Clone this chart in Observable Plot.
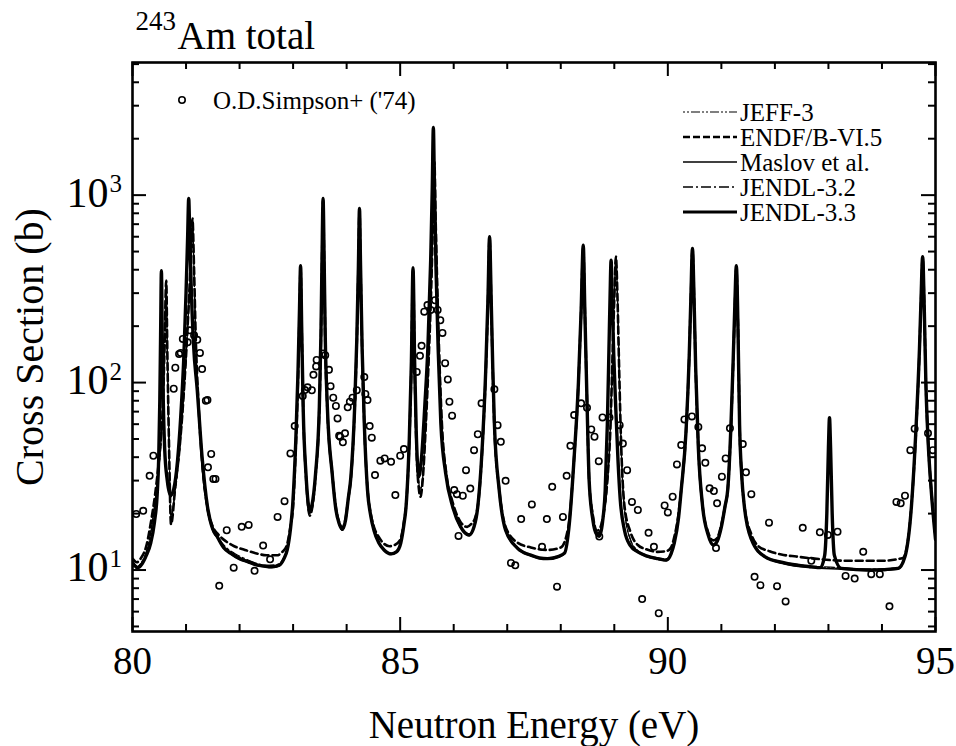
<!DOCTYPE html>
<html>
<head>
<meta charset="utf-8">
<script src="https://cdn.jsdelivr.net/npm/d3@7"></script>
<script src="https://cdn.jsdelivr.net/npm/@observablehq/plot@0.6"></script>
<style>
  html, body { margin: 0; padding: 0; background: white; }
  #chart { position: relative; width: 956px; height: 746px; }
</style>
</head>
<body>
<div id="chart"></div>
<script>
// ---------- tick values & labels ----------
const xTickValues = [80, 85, 90, 95];
const xTickLabels = ["80", "85", "90", "95"];
const xMinorTicks = [81, 82, 83, 84, 86, 87, 88, 89, 91, 92, 93, 94];
const yTickValues = [10, 100, 1000];
const yTickBases = ["10", "10", "10"];
const yTickExponents = ["1", "2", "3"];
const yMinorTicks = [5, 6, 7, 8, 9, 20, 30, 40, 50, 60, 70, 80, 90, 200, 300, 400, 500, 600, 700, 800, 900, 2000, 3000, 4000, 5000];

// ---------- legend ----------
const dataLegendLabel = "O.D.Simpson+ ('74)";
const seriesNames = ["JEFF-3", "ENDF/B-VI.5", "Maslov et al.", "JENDL-3.2", "JENDL-3.3"];

// ---------- experimental points: O.D. Simpson+ ('74) ----------
const simpsonE = [80.07,80.20,80.32,80.39,80.77,80.80,80.87,80.90,80.94,81.03,81.07,81.15,81.21,81.26,81.30,81.37,81.40,81.41,81.47,81.51,81.55,81.62,81.76,81.89,82.04,82.17,82.28,82.44,82.57,82.71,82.84,82.95,83.03,83.18,83.22,83.27,83.35,83.38,83.43,83.44,83.56,83.60,83.67,83.70,83.75,83.80,83.83,83.86,83.88,83.93,83.97,84.02,84.06,84.11,84.19,84.33,84.35,84.39,84.43,84.47,84.53,84.63,84.71,84.83,84.91,85.00,85.07,85.31,85.37,85.40,85.45,85.51,85.57,85.65,85.70,85.75,85.79,85.84,85.89,85.92,85.97,86.01,86.06,86.09,86.17,86.23,86.31,86.38,86.45,86.52,86.76,86.82,86.88,86.97,87.07,87.15,87.26,87.46,87.65,87.74,87.84,87.93,88.04,88.11,88.18,88.25,88.38,88.49,88.57,88.63,88.71,88.72,88.78,88.91,89.10,89.16,89.24,89.33,89.44,89.52,89.64,89.74,89.83,89.94,90.00,90.09,90.17,90.25,90.31,90.45,90.57,90.64,90.70,90.78,90.86,90.90,90.92,91.01,91.08,91.16,91.40,91.46,91.56,91.62,91.73,91.89,92.04,92.20,92.52,92.68,92.84,92.99,93.17,93.32,93.49,93.65,93.80,93.96,94.14,94.27,94.35,94.43,94.53,94.61,94.86,94.95];
const simpsonXS = [19.9,20.7,31.8,40.7,92.7,120,142,144,171,164,190,179,169,144,118,80,80.7,35.3,41.6,30.6,30.6,8.24,16.3,10.3,17.0,17.4,9.9,13.5,11.4,19.2,23.3,41.9,58.6,84.7,91.2,94.3,91,110,122,132,143,140,117,95.7,83,75,64.4,52,51.4,48,53.6,73.8,79,83,91,107,86.9,80.7,58.6,50.8,32.1,38.3,39.4,37.8,25.1,40.7,44.2,114,139,157,239,259,244,275,244,215,184,127,104,79,66.6,26.7,25.4,15.2,24.9,34.1,27.2,43.6,53,77.5,92,59.3,48.3,29.9,10.9,10.6,18.7,22.4,13.3,18.7,27.8,8.15,19.2,31.8,46,67.1,77.5,73.4,56.2,51.4,38.1,15.1,65.2,65.2,59.3,47.3,34.1,23.1,20.9,7.0,15.8,13.3,5.88,22.1,20.3,24.6,36.6,46.4,63.6,66,58,44.6,37.3,27.3,26.4,13.1,22.7,31.5,39.4,57,47,33.2,25.4,9.2,8.3,17.9,8.2,6.8,16.8,11.2,15.9,15.4,16.0,9.3,9.0,12.5,9.5,9.5,6.4,23.1,22.7,24.9,43.6,56.8,53.6,43.6];

// ---------- evaluated curves [energy (eV), cross section (b)] ----------
const jendl33 = [[80.00,11.0],[80.05,10.5],[80.10,10.3],[80.18,10.8],[80.26,12.0],[80.34,13.9],[80.41,18],[80.46,25],[80.49,40],[80.51,80],[80.525,180],[80.54,395],[80.555,180],[80.575,80],[80.60,45],[80.65,30],[80.71,25],[80.77,27],[80.84,38],[80.90,65],[80.96,140],[81.00,300],[81.03,600],[81.05,960],[81.07,600],[81.10,300],[81.14,160],[81.21,91],[81.30,40],[81.40,21.8],[81.50,16.5],[81.58,15.1],[81.70,13.2],[81.83,12.3],[82.00,11.5],[82.15,11.1],[82.30,10.7],[82.46,10.5],[82.60,10.4],[82.74,10.6],[82.83,11.5],[82.89,12.8],[82.95,16.5],[82.99,21.8],[83.05,49],[83.09,110],[83.12,250],[83.14,420],[83.16,200],[83.19,70],[83.24,32.8],[83.28,23],[83.31,20.5],[83.35,22],[83.42,32.8],[83.49,74],[83.52,180],[83.54,450],[83.56,960],[83.58,450],[83.60,180],[83.64,74],[83.73,32.8],[83.80,21],[83.86,17.7],[83.92,16.5],[83.98,18.5],[84.03,24],[84.08,31.5],[84.15,74],[84.19,170],[84.22,420],[84.24,850],[84.26,420],[84.29,150],[84.33,60.5],[84.39,26.7],[84.45,19.5],[84.51,16.3],[84.60,14.0],[84.70,12.8],[84.83,12.2],[84.93,12.5],[85.01,13.9],[85.07,17.5],[85.11,21.8],[85.17,49.4],[85.21,130],[85.24,410],[85.27,130],[85.30,55],[85.35,31.5],[85.40,40],[85.46,75],[85.52,160],[85.57,450],[85.60,1100],[85.62,2300],[85.64,1100],[85.67,400],[85.71,150],[85.76,60.5],[85.85,32.8],[85.98,21.8],[86.13,17.0],[86.29,15.4],[86.38,17],[86.45,21.8],[86.54,49.4],[86.60,120],[86.64,280],[86.67,600],[86.70,280],[86.73,120],[86.76,60.5],[86.85,26.7],[86.97,16.3],[87.19,13.1],[87.44,12.0],[87.60,11.6],[87.75,11.5],[87.95,11.8],[88.07,12.3],[88.16,17.7],[88.25,40],[88.33,100],[88.38,240],[88.42,540],[88.45,240],[88.49,80],[88.53,30],[88.60,18.5],[88.67,15.5],[88.72,15.2],[88.78,18],[88.83,26.7],[88.87,60],[88.90,150],[88.92,280],[88.94,450],[88.96,280],[88.99,140],[89.03,70],[89.07,38],[89.11,24],[89.19,16.3],[89.30,13.5],[89.44,12.5],[89.60,11.9],[89.81,11.5],[89.97,11.3],[90.06,12.2],[90.12,13.9],[90.20,19],[90.25,26.7],[90.34,55],[90.40,140],[90.43,280],[90.46,520],[90.49,280],[90.52,120],[90.57,45],[90.65,21.8],[90.75,15.5],[90.85,13.6],[90.92,14.2],[91.00,17],[91.07,22],[91.12,27],[91.18,60],[91.22,130],[91.25,250],[91.28,420],[91.31,200],[91.34,60],[91.38,32],[91.43,21.8],[91.56,14.6],[91.81,11.8],[92.18,10.9],[92.68,10.4],[92.85,10.3],[92.93,12],[92.97,20],[93.00,45],[93.02,65],[93.04,45],[93.07,20],[93.11,12],[93.24,10.2],[93.80,10.0],[94.30,10.2],[94.43,11.8],[94.55,21.8],[94.64,60.5],[94.70,150],[94.73,280],[94.76,470],[94.79,250],[94.82,100],[94.86,50],[94.92,26.7],[95.00,14.6]];

const maslov = [[80.00,11.1],[80.05,10.6],[80.10,10.3],[80.18,10.8],[80.26,12.0],[80.34,13.8],[80.41,18],[80.46,25],[80.49,40],[80.51,80],[80.525,180],[80.54,390],[80.555,180],[80.575,80],[80.60,45],[80.65,30],[80.71,24.5],[80.77,27],[80.84,38],[80.90,65],[80.96,140],[81.00,300],[81.03,600],[81.05,940],[81.07,600],[81.10,300],[81.14,160],[81.21,90],[81.30,40],[81.40,21.6],[81.50,16.4],[81.58,15.0],[81.70,13.1],[81.83,12.2],[82.00,11.4],[82.15,11.0],[82.30,10.6],[82.46,10.4],[82.60,10.3],[82.74,10.5],[82.83,11.4],[82.89,12.7],[82.95,16.4],[82.99,21.6],[83.05,48],[83.09,108],[83.12,245],[83.14,415],[83.16,200],[83.19,70],[83.24,32.5],[83.28,22.8],[83.31,20.3],[83.35,21.8],[83.42,32.5],[83.49,73],[83.52,178],[83.54,445],[83.56,950],[83.58,445],[83.60,178],[83.64,73],[83.73,32.5],[83.80,20.8],[83.86,17.5],[83.92,16.3],[83.98,18.3],[84.03,23.8],[84.08,31.2],[84.15,73],[84.19,168],[84.22,415],[84.24,840],[84.26,415],[84.29,148],[84.33,60],[84.39,26.5],[84.45,19.3],[84.51,16.1],[84.60,13.9],[84.70,12.7],[84.83,12.1],[84.93,12.4],[85.01,13.8],[85.07,17.4],[85.11,21.6],[85.17,49],[85.21,128],[85.24,405],[85.27,128],[85.30,54],[85.35,31],[85.40,39],[85.46,74],[85.52,158],[85.57,440],[85.60,1080],[85.62,2250],[85.64,1080],[85.67,395],[85.71,148],[85.76,60],[85.85,32.5],[85.98,21.6],[86.13,16.8],[86.29,15.2],[86.38,16.8],[86.45,21.6],[86.54,49],[86.60,118],[86.64,275],[86.67,590],[86.70,275],[86.73,118],[86.76,60],[86.85,26.5],[86.97,16.1],[87.19,13.0],[87.44,11.9],[87.60,11.5],[87.75,11.4],[87.95,11.7],[88.07,12.2],[88.16,17.5],[88.25,39.5],[88.33,99],[88.38,238],[88.42,535],[88.45,238],[88.49,79],[88.53,29.5],[88.60,18.3],[88.67,15.3],[88.72,15.0],[88.78,17.8],[88.83,26.5],[88.87,59],[88.90,148],[88.92,276],[88.94,445],[88.96,276],[88.99,138],[89.03,69],[89.07,37.5],[89.11,23.8],[89.19,16.1],[89.30,13.4],[89.44,12.4],[89.60,11.8],[89.81,11.4],[89.97,11.2],[90.06,12.1],[90.12,13.8],[90.20,18.8],[90.25,26.5],[90.34,54],[90.40,138],[90.43,276],[90.46,515],[90.49,276],[90.52,118],[90.57,44.5],[90.65,21.6],[90.75,15.3],[90.85,13.5],[90.92,14.0],[91.00,16.8],[91.07,21.8],[91.12,26.8],[91.18,59],[91.22,128],[91.25,246],[91.28,415],[91.31,198],[91.34,59],[91.38,31.6],[91.43,21.6],[91.56,14.4],[91.81,11.7],[92.18,10.8],[92.68,10.3],[93.24,10.1],[93.80,9.9],[94.30,10.1],[94.43,11.7],[94.55,21.6],[94.64,60],[94.70,148],[94.73,276],[94.76,465],[94.79,248],[94.82,99],[94.86,49.5],[94.92,26.5],[95.00,14.5]];

const endf = [[80.00,11.5],[80.08,11.0],[80.16,11.6],[80.26,13.5],[80.34,17.7],[80.42,25],[80.48,35],[80.53,50],[80.57,80],[80.60,160],[80.63,350],[80.65,150],[80.68,50],[80.72,17.5],[80.80,28],[80.88,45],[80.96,90],[81.03,200],[81.08,400],[81.12,750],[81.15,400],[81.18,180],[81.23,80],[81.30,38],[81.40,21.5],[81.50,17],[81.60,15.5],[81.75,14.2],[81.90,13.4],[82.10,12.8],[82.30,12.3],[82.50,12.0],[82.70,12.0],[82.80,12.5],[82.88,13.5],[82.95,17],[83.00,22],[83.05,45],[83.09,100],[83.12,230],[83.14,410],[83.16,200],[83.19,70],[83.24,32],[83.28,22],[83.31,19.5],[83.35,21],[83.42,32],[83.49,72],[83.52,170],[83.54,430],[83.56,940],[83.58,430],[83.60,170],[83.64,72],[83.73,33],[83.80,21.5],[83.86,18],[83.92,16.8],[83.98,18.8],[84.03,24],[84.08,31],[84.15,72],[84.19,165],[84.22,410],[84.24,830],[84.26,410],[84.29,150],[84.33,60],[84.39,27],[84.45,20],[84.51,17],[84.60,15],[84.70,13.8],[84.80,13.4],[84.90,13.6],[85.00,14.5],[85.07,18],[85.11,22],[85.17,48],[85.21,125],[85.24,400],[85.27,125],[85.30,50],[85.35,27],[85.38,24.6],[85.42,30],[85.48,60],[85.54,150],[85.59,400],[85.62,900],[85.64,1500],[85.66,800],[85.69,350],[85.73,140],[85.78,60],[85.86,33],[85.98,23],[86.13,18],[86.25,17],[86.32,17.5],[86.40,19],[86.46,23],[86.54,48],[86.60,115],[86.64,270],[86.67,590],[86.70,270],[86.73,115],[86.76,58],[86.85,27],[86.97,17],[87.19,14],[87.44,13.2],[87.75,12.8],[88.00,13.2],[88.10,15],[88.16,18.5],[88.25,40],[88.33,100],[88.38,240],[88.42,530],[88.45,240],[88.49,80],[88.53,30],[88.60,19.5],[88.67,16.2],[88.72,16.5],[88.80,20],[88.87,30],[88.93,60],[88.97,150],[89.00,280],[89.03,470],[89.06,280],[89.09,120],[89.13,45],[89.19,22],[89.30,16],[89.44,13.6],[89.60,12.9],[89.81,12.5],[89.97,12.6],[90.06,13.2],[90.12,15],[90.20,20],[90.25,27],[90.34,55],[90.40,140],[90.43,280],[90.46,510],[90.49,280],[90.52,120],[90.57,45],[90.65,22],[90.75,16],[90.85,14.4],[90.92,14.8],[91.00,17.5],[91.07,22],[91.12,27],[91.18,58],[91.22,125],[91.25,240],[91.28,410],[91.31,200],[91.34,60],[91.38,32],[91.43,22],[91.56,15.5],[91.68,13.5],[91.90,12.6],[92.12,12.1],[92.40,11.8],[92.74,11.5],[93.37,11.2],[93.99,11.2],[94.39,11.6],[94.46,13],[94.55,22],[94.64,58],[94.70,145],[94.73,270],[94.76,460],[94.79,250],[94.82,100],[94.86,50],[94.92,27],[95.00,15]];

const jendl32 = [[80.00,10.8],[80.08,10.4],[80.16,10.9],[80.26,12.6],[80.34,16],[80.42,23],[80.48,33],[80.53,48],[80.57,78],[80.60,155],[80.63,345],[80.65,150],[80.68,50],[80.72,19],[80.80,27],[80.88,44],[80.96,88],[81.03,195],[81.08,390],[81.12,740],[81.15,390],[81.18,175],[81.23,78],[81.30,37],[81.40,21],[81.50,16.4],[81.60,14.8],[81.75,13.2],[81.90,12.3],[82.10,11.5],[82.30,10.9],[82.50,10.6],[82.70,10.7],[82.80,11.3],[82.88,12.8],[82.95,16.5],[83.00,22],[83.05,47],[83.09,105],[83.12,240],[83.14,415],[83.16,200],[83.19,70],[83.24,32.5],[83.28,22.5],[83.31,20.2],[83.35,21.6],[83.42,32.4],[83.49,73],[83.52,176],[83.54,440],[83.56,950],[83.58,440],[83.60,176],[83.64,73],[83.73,32.6],[83.80,20.9],[83.86,17.6],[83.92,16.4],[83.98,18.4],[84.03,24],[84.08,31.3],[84.15,73],[84.19,168],[84.22,415],[84.24,840],[84.26,415],[84.29,150],[84.33,60],[84.39,26.6],[84.45,19.4],[84.51,16.2],[84.60,14.0],[84.70,12.8],[84.83,12.3],[84.93,12.6],[85.01,14],[85.07,17.6],[85.11,21.8],[85.17,48.5],[85.21,127],[85.24,405],[85.27,127],[85.30,52],[85.35,29],[85.38,27],[85.42,31],[85.48,60],[85.54,150],[85.59,400],[85.62,900],[85.64,1500],[85.66,800],[85.69,350],[85.73,140],[85.78,58],[85.86,32],[85.98,22],[86.13,17.2],[86.29,15.6],[86.38,17.2],[86.45,21.8],[86.54,49],[86.60,118],[86.64,275],[86.67,595],[86.70,275],[86.73,118],[86.76,60],[86.85,26.6],[86.97,16.4],[87.19,13.2],[87.44,12.1],[87.60,11.7],[87.75,11.6],[87.95,11.9],[88.07,12.4],[88.16,17.8],[88.25,40],[88.33,100],[88.38,240],[88.42,535],[88.45,240],[88.49,80],[88.53,30],[88.60,18.8],[88.67,15.8],[88.72,16],[88.80,19.5],[88.87,29],[88.93,60],[88.97,150],[89.00,280],[89.03,465],[89.06,280],[89.09,120],[89.13,44],[89.19,21],[89.30,14.6],[89.44,12.7],[89.60,12.0],[89.81,11.6],[89.97,11.5],[90.06,12.3],[90.12,14],[90.20,19.2],[90.25,26.8],[90.34,55],[90.40,140],[90.43,280],[90.46,515],[90.49,280],[90.52,120],[90.57,45],[90.65,21.8],[90.75,15.6],[90.85,13.8],[90.92,14.3],[91.00,17.1],[91.07,22],[91.12,27],[91.18,59],[91.22,128],[91.25,245],[91.28,415],[91.31,200],[91.34,60],[91.38,32],[91.43,21.8],[91.56,14.7],[91.81,11.9],[92.18,11.0],[92.68,10.5],[93.24,10.3],[93.80,10.1],[94.30,10.3],[94.43,11.9],[94.55,21.8],[94.64,60],[94.70,148],[94.73,276],[94.76,465],[94.79,250],[94.82,100],[94.86,50],[94.92,26.8],[95.00,14.7]];

const jeff3 = [[80.00,10.6],[80.08,10.2],[80.16,10.8],[80.26,12.4],[80.34,15.6],[80.42,22.5],[80.48,32],[80.53,47],[80.57,77],[80.60,152],[80.63,340],[80.65,148],[80.68,50],[80.72,19.5],[80.80,27],[80.88,44],[80.96,87],[81.03,193],[81.08,385],[81.12,735],[81.15,385],[81.18,172],[81.23,77],[81.30,36.5],[81.40,20.8],[81.50,16.2],[81.60,14.6],[81.75,13.0],[81.90,12.1],[82.10,11.3],[82.30,10.8],[82.50,10.5],[82.70,10.6],[82.80,11.2],[82.88,12.7],[82.95,16.4],[83.00,22],[83.05,47],[83.09,105],[83.12,240],[83.14,415],[83.16,200],[83.19,70],[83.24,32.4],[83.28,22.4],[83.31,20.1],[83.35,21.5],[83.42,32.3],[83.49,73],[83.52,176],[83.54,440],[83.56,945],[83.58,440],[83.60,176],[83.64,73],[83.73,32.5],[83.80,20.8],[83.86,17.5],[83.92,16.3],[83.98,18.3],[84.03,23.9],[84.08,31.2],[84.15,73],[84.19,168],[84.22,415],[84.24,835],[84.26,415],[84.29,150],[84.33,60],[84.39,26.5],[84.45,19.3],[84.51,16.1],[84.60,13.9],[84.70,12.7],[84.83,12.2],[84.93,12.5],[85.01,13.9],[85.07,17.5],[85.11,21.7],[85.17,48.5],[85.21,127],[85.24,400],[85.27,127],[85.30,52],[85.35,29],[85.38,27],[85.42,31],[85.48,60],[85.54,150],[85.59,400],[85.62,900],[85.64,1480],[85.66,800],[85.69,350],[85.73,140],[85.78,58],[85.86,32],[85.98,22],[86.13,17.1],[86.29,15.5],[86.38,17.1],[86.45,21.7],[86.54,49],[86.60,118],[86.64,275],[86.67,590],[86.70,275],[86.73,118],[86.76,60],[86.85,26.5],[86.97,16.3],[87.19,13.1],[87.44,12.0],[87.60,11.6],[87.75,11.5],[87.95,11.8],[88.07,12.3],[88.16,17.7],[88.25,40],[88.33,100],[88.38,240],[88.42,530],[88.45,240],[88.49,80],[88.53,30],[88.60,18.7],[88.67,15.7],[88.72,15.9],[88.80,19.4],[88.87,29],[88.93,60],[88.97,150],[89.00,280],[89.03,460],[89.06,280],[89.09,120],[89.13,44],[89.19,21],[89.30,14.5],[89.44,12.6],[89.60,11.9],[89.81,11.5],[89.97,11.4],[90.06,12.2],[90.12,13.9],[90.20,19.1],[90.25,26.7],[90.34,55],[90.40,140],[90.43,280],[90.46,510],[90.49,280],[90.52,120],[90.57,45],[90.65,21.7],[90.75,15.5],[90.85,13.7],[90.92,14.2],[91.00,17],[91.07,22],[91.12,27],[91.18,59],[91.22,128],[91.25,245],[91.28,410],[91.31,200],[91.34,60],[91.38,32],[91.43,21.7],[91.56,14.6],[91.81,11.8],[92.18,10.9],[92.68,10.4],[93.24,10.2],[93.80,10.0],[94.30,10.2],[94.43,11.8],[94.55,21.7],[94.64,60],[94.70,148],[94.73,276],[94.76,462],[94.79,250],[94.82,100],[94.86,50],[94.92,26.7],[95.00,14.6]];

// ---------- layout ----------
const W = 956, H = 746;
const mL = 132, mR = 21, mT = 62, mB = 115;
const frameW = W - mL - mR, frameH = H - mT - mB;
const FONT = "'Liberation Serif', 'Times New Roman', serif";
const majorLen = 14, minorLen = 7;

const simpson = simpsonE.map((e, i) => ({e, xs: simpsonXS[i]}));
const X = d => d[0], Y = d => d[1];
const idx = (arr) => arr.map((_, i) => i);

const plot = Plot.plot({
  width: W, height: H,
  marginLeft: mL, marginRight: mR, marginTop: mT, marginBottom: mB,
  style: {fontFamily: FONT, background: "white", color: "black", overflow: "visible"},
  x: {domain: [80, 95], axis: null},
  y: {type: "log", domain: [4.7, 5100], axis: null},
  marks: [
    // curves
    Plot.line(jeff3, {x: X, y: Y, curve: "monotone-x", stroke: "black", strokeWidth: 1.2, strokeDasharray: "2,2,2,2,9,2", clip: true}),
    Plot.line(jendl32, {x: X, y: Y, curve: "monotone-x", stroke: "black", strokeWidth: 1.3, strokeDasharray: "10,3,2,3", clip: true}),
    Plot.line(endf, {x: X, y: Y, curve: "monotone-x", stroke: "black", strokeWidth: 2.6, strokeDasharray: "7,4", clip: true}),
    Plot.line(maslov, {x: X, y: Y, curve: "monotone-x", stroke: "black", strokeWidth: 1.4, clip: true}),
    Plot.line(jendl33, {x: X, y: Y, curve: "monotone-x", stroke: "black", strokeWidth: 3.4, clip: true}),
    // experimental points
    Plot.dot(simpson, {x: "e", y: "xs", r: 3.2, stroke: "black", strokeWidth: 1.6, fill: "none", clip: true}),
    // frame
    Plot.frame({stroke: "black", strokeWidth: 2.6}),
    // inward ticks, bottom & top
    Plot.tickX(xTickValues, {x: d => d, insetTop: frameH - majorLen, strokeWidth: 2}),
    Plot.tickX(xMinorTicks, {x: d => d, insetTop: frameH - minorLen, strokeWidth: 2}),
    Plot.tickX(xTickValues, {x: d => d, insetBottom: frameH - majorLen, strokeWidth: 2}),
    Plot.tickX(xMinorTicks, {x: d => d, insetBottom: frameH - minorLen, strokeWidth: 2}),
    // inward ticks, left & right
    Plot.tickY(yTickValues, {y: d => d, insetRight: frameW - majorLen, strokeWidth: 2}),
    Plot.tickY(yMinorTicks, {y: d => d, insetRight: frameW - minorLen, strokeWidth: 2}),
    Plot.tickY(yTickValues, {y: d => d, insetLeft: frameW - majorLen, strokeWidth: 2}),
    Plot.tickY(yMinorTicks, {y: d => d, insetLeft: frameW - minorLen, strokeWidth: 2}),
    // x tick labels
    Plot.text(idx(xTickValues), {x: i => xTickValues[i], text: i => xTickLabels[i], frameAnchor: "bottom", textAnchor: "middle", lineAnchor: "top", dy: 15, fontSize: 39, fill: "black"}),
    // y tick labels 10^n
    Plot.text(idx(yTickValues), {y: i => yTickValues[i], text: i => yTickBases[i], frameAnchor: "left", textAnchor: "end", lineAnchor: "middle", dx: -24, dy: -2, fontSize: 42, fill: "black"}),
    Plot.text(idx(yTickValues), {y: i => yTickValues[i], text: i => yTickExponents[i], frameAnchor: "left", textAnchor: "start", lineAnchor: "middle", dx: -23, dy: -11, fontSize: 25, fill: "black"}),
    // axis titles
    Plot.text(["Neutron Energy (eV)"], {text: d => d, frameAnchor: "bottom", textAnchor: "middle", lineAnchor: "bottom", dy: 106, fontSize: 39, fill: "black"}),
    Plot.text(["Cross Section (b)"], {text: d => d, frameAnchor: "left", textAnchor: "middle", lineAnchor: "bottom", rotate: -90, dx: -90, fontSize: 40, fill: "black"}),
    // title
    Plot.text(["243"], {text: d => d, frameAnchor: "top-left", textAnchor: "start", lineAnchor: "bottom", dx: 3, dy: -33, fontSize: 27, fill: "black"}),
    Plot.text(["Am total"], {text: d => d, frameAnchor: "top-left", textAnchor: "start", lineAnchor: "bottom", dx: 45, dy: -14, fontSize: 39, fill: "black"})
  ]
});

const chart = document.getElementById("chart");
chart.appendChild(plot);

// ---------- legend overlay ----------
const leg = d3.select(chart).append("svg")
  .attr("width", W).attr("height", H)
  .style("position", "absolute").style("left", "0px").style("top", "0px")
  .style("pointer-events", "none")
  .style("font-family", FONT);

leg.append("circle").attr("cx", 182).attr("cy", 100).attr("r", 3.2)
  .attr("fill", "none").attr("stroke", "black").attr("stroke-width", 1.6);
leg.append("text").attr("x", 213).attr("y", 109).attr("font-size", 25).text(dataLegendLabel);

const legendRowsY = [112, 137, 162, 187, 212];
const legendStyles = [
  {w: 1.2, dash: "2,2,2,2,9,2"},
  {w: 2.6, dash: "7,3"},
  {w: 1.4, dash: null},
  {w: 1.3, dash: "10,3,2,3"},
  {w: 3.2, dash: null}
];
seriesNames.forEach((name, i) => {
  const y = legendRowsY[i];
  const ln = leg.append("line").attr("x1", 683).attr("x2", 737).attr("y1", y).attr("y2", y)
    .attr("stroke", "black").attr("stroke-width", legendStyles[i].w);
  if (legendStyles[i].dash) ln.attr("stroke-dasharray", legendStyles[i].dash);
  leg.append("text").attr("x", 740).attr("y", y + 8.5).attr("font-size", 25).text(name);
});
</script>
</body>
</html>
